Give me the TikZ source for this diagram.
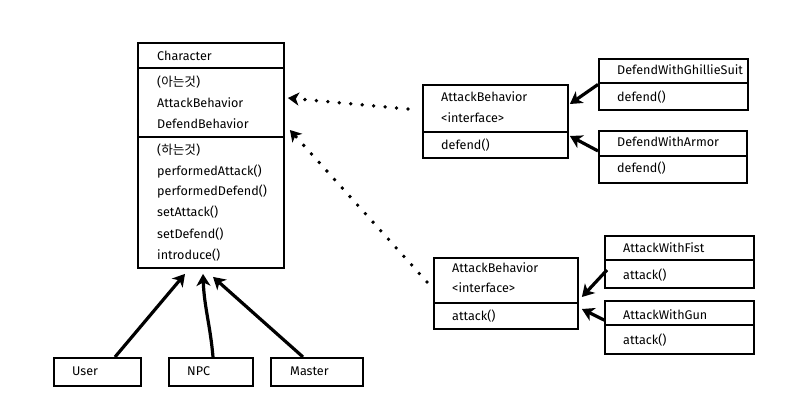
\documentclass[tikz,border=0pt]{standalone}
\usepackage{fontspec}
\setmainfont{Fira Sans}
\newfontfamily\kr{Noto Sans CJK KR}
\usetikzlibrary{arrows.meta,calc}
\tikzset{
  cls/.style={draw, line width=1.9pt, rectangle, inner sep=0pt, anchor=north west},
  txt/.style={anchor=west, inner sep=0pt, font=\fontsize{12.6}{14}\selectfont},
  sepline/.style={line width=1.2pt},
  inh/.style={line width=3.2pt, -{Stealth[length=12pt,width=14pt,inset=3.5pt]}},
  dep/.style={line width=3.8pt, line cap=round, dash pattern=on 0pt off 11.5pt, -{Stealth[length=11pt,width=13pt,inset=3pt]}},
}
\begin{document}
\begin{tikzpicture}[x=1pt,y=-1pt]
\useasboundingbox (0,0) rectangle (810,418);
\fill[white] (0,0) rectangle (810,418);
% Character
\node[cls, minimum width=146pt, minimum height=225pt] (char) at (137,42) {};
\draw[sepline] (137,68) -- (283,68);
\draw[sepline] (137,137) -- (283,137);
\node[txt] (c1) at (157,56) {Character};
\node[txt] (c2) at (157,82) {(\kr 아는것\rmfamily)};
\node[txt] (c3) at (157,103) {AttackBehavior};
\node[txt] (c4) at (157,124) {DefendBehavior};
\node[txt] (c5) at (157,150) {(\kr 하는것\rmfamily)};
\node[txt] (c6) at (157,172) {performedAttack()};
\node[txt] (c7) at (157,192) {performedDefend()};
\node[txt] (c8) at (157,212) {setAttack()};
\node[txt] (c9) at (157,234) {setDefend()};
\node[txt] (c10) at (157,255) {introduce()};
% interface 1
\node[cls, minimum width=145pt, minimum height=73pt] (ib1) at (422,84) {};
\draw[sepline] (422,132) -- (567,132);
\node[txt] (i1a) at (441,97) {AttackBehavior};
\node[txt] (i1b) at (441,118) {<interface>};
\node[txt] (i1c) at (441,145) {defend()};
% Ghillie
\node[cls, minimum width=149pt, minimum height=51pt] (gh) at (598,58) {};
\draw[sepline] (598,83) -- (747,83);
\node[txt] (gha) at (617,70) {DefendWithGhillieSuit};
\node[txt] (ghb) at (617,97) {defend()};
% Armor
\node[cls, minimum width=148pt, minimum height=52pt] (ar) at (598,130) {};
\draw[sepline] (598,156) -- (746,156);
\node[txt] (ara) at (617,142) {DefendWithArmor};
\node[txt] (arb) at (617,168) {defend()};
% interface 2
\node[cls, minimum width=144pt, minimum height=71pt] (ib2) at (433,257) {};
\draw[sepline] (433,303) -- (577,303);
\node[txt] (i2a) at (452,268) {AttackBehavior};
\node[txt] (i2b) at (452,288) {<interface>};
\node[txt] (i2c) at (452,316) {attack()};
% Fist
\node[cls, minimum width=149pt, minimum height=52pt] (fi) at (604,235) {};
\draw[sepline] (604,260) -- (753,260);
\node[txt] (fia) at (623,248) {AttackWithFist};
\node[txt] (fib) at (623,275) {attack()};
% Gun
\node[cls, minimum width=149pt, minimum height=53pt] (gu) at (604,300) {};
\draw[sepline] (604,325) -- (753,325);
\node[txt] (gua) at (623,315) {AttackWithGun};
\node[txt] (gub) at (623,340) {attack()};
% bottom boxes
\node[cls, minimum width=87pt, minimum height=28pt] (user) at (53,357) {};
\node[txt] (usert) at (72,371) {User};
\node[cls, minimum width=84pt, minimum height=28pt] (npc) at (168,357) {};
\node[txt] (npct) at (187,371) {NPC};
\node[cls, minimum width=92pt, minimum height=28pt] (master) at (270,357) {};
\node[txt] (mastert) at (290,371) {Master};
% inheritance
\draw[inh] ($(user.north west)+(62,0)$) -- ($(char.south west)+(48,5)$);
\draw[inh] ($(npc.north west)+(45,0)$) to[out=95,in=-88] ($(char.south west)+(66,5)$);
\draw[inh] ($(master.north west)+(33,0)$) -- ($(char.south west)+(76,8)$);
% dependencies
\draw[dep] ($(ib1.north west)+(-14,25)$) -- ($(char.north east)+(3,56)$);
\draw[dep] ($(ib2.north west)+(-6,25)$) -- ($(char.north east)+(5,88)$);
% implementations
\draw[inh] (gh.west) -- ($(ib1.north east)+(1,20)$);
\draw[inh] ($(ar.west)+(0,-6)$) -- ($(ib1.north east)+(1,52)$);
\draw[inh] ($(fi.west)+(3,8)$) -- ($(ib2.north east)+(3,40)$);
\draw[inh] ($(gu.west)+(1,-7)$) -- ($(ib2.north east)+(3,52)$);
\end{tikzpicture}
\end{document}
